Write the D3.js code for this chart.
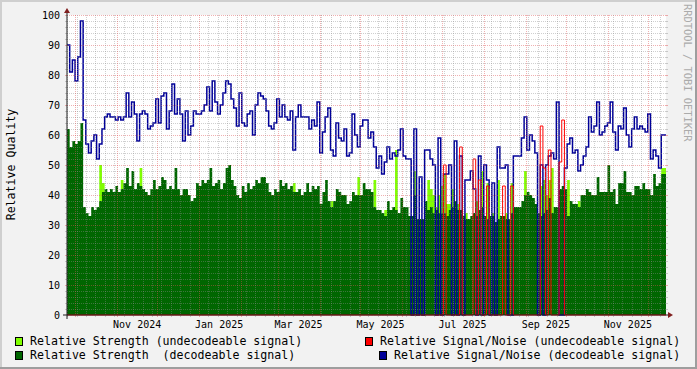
<!DOCTYPE html>
<html>
<head>
<meta charset="utf-8">
<script src="https://cdn.jsdelivr.net/npm/d3@7"></script>
<style>
  html, body { margin: 0; padding: 0; background: #f2f2f2; }
  svg { display: block; font-family: "DejaVu Sans Mono", monospace; }
  text { white-space: pre; }
</style>
</head>
<body>
<svg id="chart" width="697" height="369"></svg>
<script>
// one sample every 2 days, first sample at 2024-09-24 19:30 UTC
const binDays = 2;

// Relative Signal/Noise (decodeable signal)
const snDecoded = [
  90, 81, 85, 78, 86, 98, 65, 57, 54, 58, 60, 52, 57, 62, 66, 67, 66, 66, 65, 66,
  65, 66, 74, 66, 71, 67, 58, 67, 68, 67, 62, 63, 64, 72, 64, 73, 74, 62, 68, 77,
  67, 72, 67, 58, 68, 60, 63, 68, 67, 67, 68, 70, 76, 68, 78, 71, 67, 70, 74, 78,
  77, 72, 69, 63, 74, 64, 63, 67, 68, 60, 70, 74, 73, 72, 68, 63, 62, 64, 72, 66,
  70, 66, 65, 68, 55, 66, 70, 66, 66, 66, 62, 65, 63, 71, 54, 61, 66, 69, 55, 53,
  64, 59, 58, 62, 53, 54, 67, 60, 56, 63, 65, 65, 59, 61, 56, 49, 53, 47, 51, 56,
  52, 54, 53, 55, 62, 53, 52, 52, 0, 62, 0, 46, 0, 55, 55, 52, 50, 0, 59, 0,
  47, 47, 50, 0, 58, 0, 53, 0, 45, 45, 48, 42, 0, 53, 0, 50, 45, 0, 44, 0,
  56, 49, 49, 50, 0, 0, 53, 53, 53, 59, 66, 55, 60, 58, 54, 0, 50, 0, 50, 53,
  54, 52, 71, 0, 0, 49, 57, 59, 54, 55, 48, 50, 53, 56, 66, 61, 63, 71, 60, 61,
  63, 64, 71, 61, 55, 63, 62, 69, 60, 56, 62, 66, 62, 63, 62, 61, 67, 52, 55, 53,
  49, 60
];

// Relative Strength (decodeable signal)
const strengthDecoded = [
  62, 56, 58, 57, 58, 64, 36, 34, 33, 36, 35, 36, 38, 41, 42, 41, 42, 41, 43, 41,
  42, 44, 49, 43, 48, 42, 44, 43, 42, 41, 40, 42, 45, 42, 43, 46, 45, 42, 43, 42,
  49, 42, 40, 42, 42, 40, 38, 39, 44, 43, 45, 44, 45, 49, 43, 44, 45, 42, 44, 49,
  50, 45, 43, 40, 39, 43, 41, 44, 42, 43, 45, 44, 46, 46, 44, 41, 40, 42, 41, 45,
  43, 44, 42, 43, 41, 41, 42, 40, 41, 44, 41, 43, 42, 43, 37, 41, 45, 38, 36, 38,
  42, 41, 40, 40, 37, 38, 41, 40, 40, 40, 44, 42, 42, 41, 36, 35, 35, 34, 33, 38,
  35, 36, 35, 34, 39, 36, 36, 33, 33, 40, 32, 32, 32, 38, 35, 36, 34, 35, 34, 34,
  34, 33, 35, 36, 38, 35, 35, 33, 32, 32, 33, 34, 33, 35, 36, 33, 32, 33, 33, 31,
  32, 33, 33, 32, 32, 34, 36, 36, 36, 38, 40, 41, 40, 39, 37, 34, 33, 34, 35, 39,
  34, 36, 36, 42, 43, 42, 33, 38, 37, 37, 36, 40, 40, 42, 41, 40, 40, 46, 41, 41,
  41, 50, 41, 42, 37, 44, 44, 48, 41, 41, 40, 43, 43, 42, 44, 42, 42, 40, 47, 43,
  44, 47
];

// Relative Strength (undecodeable signal): [sample index, value], only where it shows
const strengthUndecoded = [
  [12, 50], [13, 44], [20, 45], [27, 49], [84, 44], [98, 38], [108, 46], [114, 45],
  [118, 35], [122, 55], [129, 48], [134, 45], [135, 42], [136, 40], [137, 36], [138, 40],
  [139, 43], [140, 47], [141, 37], [142, 37], [143, 42], [145, 37], [148, 34], [152, 38],
  [154, 48], [156, 44], [158, 34], [160, 45], [163, 34], [165, 44], [170, 48], [176, 43],
  [177, 45], [178, 40], [179, 45], [180, 49], [186, 45], [190, 38], [221, 49]
];

// Relative Signal/Noise (undecodeable signal): [sample index, value], 0 elsewhere
const snUndecoded = [
  [140, 50], [146, 56], [151, 52], [153, 45], [156, 43], [162, 43],
  [165, 43], [176, 63], [177, 49], [179, 55], [183, 51], [184, 65]
];

const yTicks = [0, 10, 20, 30, 40, 50, 60, 70, 80, 90, 100];
const xLabelMonths = ["2024-11", "2025-01", "2025-03", "2025-05", "2025-07", "2025-09", "2025-11"];

const legendLabels = [
  "Relative Strength (undecodeable signal)",
  "Relative Strength  (decodeable signal)",
  "Relative Signal/Noise (undecodeable signal)",
  "Relative Signal/Noise (decodeable signal)"
];

const colors = {
  strengthUndec: "#80ff00",
  strengthDec: "#006600",
  snUndec: "#ff0000",
  snDec: "#000099"
};

const W = 697, H = 369;
const plot = { left: 67, right: 666, top: 15, bottom: 315 };
const DAY = 864e5;
const t0 = Date.UTC(2024, 8, 24, 19, 30);
const t1 = t0 + 445.55 * DAY;

const x = d3.scaleUtc().domain([t0, t1]).range([plot.left, plot.right]);
const y = d3.scaleLinear().domain([0, 100]).range([plot.bottom, plot.top]);

// table for the generators
const su = snDecoded.map(() => 0);
strengthUndecoded.forEach(([i, v]) => { su[i] = v; });
const nu = snDecoded.map(() => 0);
snUndecoded.forEach(([i, v]) => { nu[i] = v; });

const rows = snDecoded.map((v, i) => ({
  t: new Date(t0 + i * binDays * DAY),
  nd: v,
  sd: strengthDecoded[i],
  su: su[i],
  nu: nu[i]
}));
rows.push({ ...rows[rows.length - 1], t: new Date(t1) });

const svg = d3.select("#chart");

// background + bevel
svg.append("rect").attr("width", W).attr("height", H).attr("fill", "#f2f2f2");
svg.append("path").attr("d", `M0,0H${W}V2H2V${H}H0Z`).attr("fill", "#cfcfcf");
svg.append("path").attr("d", `M${W},${H}H0V${H - 2}H${W - 2}V0H${W}Z`).attr("fill", "#9e9e9e");

// canvas
svg.append("rect")
  .attr("x", plot.left).attr("y", plot.top)
  .attr("width", plot.right - plot.left).attr("height", plot.bottom - plot.top)
  .attr("fill", "#fff");

const area = key => d3.area()
  .x(d => x(d.t))
  .y0(y(0))
  .y1(d => y(d[key]))
  .curve(d3.curveStepAfter);

const line = key => d3.line()
  .x(d => x(d.t))
  .y(d => y(d[key]))
  .curve(d3.curveStepAfter);

svg.append("path").datum(rows).attr("d", area("su")).attr("fill", colors.strengthUndec);
svg.append("path").datum(rows).attr("d", area("sd")).attr("fill", colors.strengthDec);
svg.append("path").datum(rows).attr("d", line("nd"))
  .attr("fill", "none").attr("stroke", colors.snDec).attr("stroke-width", 1.5);
svg.append("path").datum(rows).attr("d", line("nu"))
  .attr("fill", "none").attr("stroke", colors.snUndec).attr("stroke-width", 1);

// grid on top, like rrdtool
const minorCol = "rgba(140,140,140,0.42)";
const majorCol = "rgba(222,79,79,0.45)";
const grid = svg.append("g").attr("shape-rendering", "crispEdges");

function hLine(v, col) {
  const yy = Math.round(y(v)) + 0.5;
  grid.append("line").attr("x1", plot.left).attr("x2", plot.right)
    .attr("y1", yy).attr("y2", yy)
    .attr("stroke", col).attr("stroke-dasharray", "1,1");
  grid.append("line").attr("x1", plot.left - 2).attr("x2", plot.left)
    .attr("y1", yy).attr("y2", yy).attr("stroke", col);
  grid.append("line").attr("x1", plot.right).attr("x2", plot.right + 2)
    .attr("y1", yy).attr("y2", yy).attr("stroke", col);
}
function vLine(t, col) {
  const xx = Math.round(x(t)) + 0.5;
  grid.append("line").attr("x1", xx).attr("x2", xx)
    .attr("y1", plot.top).attr("y2", plot.bottom)
    .attr("stroke", col).attr("stroke-dasharray", "1,1");
  grid.append("line").attr("x1", xx).attr("x2", xx)
    .attr("y1", plot.bottom).attr("y2", plot.bottom + 2).attr("stroke", col);
}

for (let v = 2; v < 100; v += 2) if (v % 10 !== 0) hLine(v, minorCol);
yTicks.filter(v => v > 0).forEach(v => hLine(v, majorCol));

const months = d3.utcMonth.range(t0, t1);
const monthSet = new Set(months.map(d => +d));
d3.utcWednesday.range(t0, t1)
  .filter(d => !monthSet.has(+d))
  .forEach(d => vLine(d, minorCol));
months.forEach(d => vLine(d, majorCol));

// axes
const axisCol = "#1f1f1f";
svg.append("line").attr("x1", plot.left - 4).attr("x2", plot.right + 4)
  .attr("y1", plot.bottom).attr("y2", plot.bottom).attr("stroke", axisCol);
svg.append("line").attr("x1", plot.left).attr("x2", plot.left)
  .attr("y1", plot.bottom + 4).attr("y2", plot.top - 4).attr("stroke", axisCol);
svg.append("path")
  .attr("d", `M${plot.right + 2},${plot.bottom - 3}L${plot.right + 2},${plot.bottom + 3}L${plot.right + 7},${plot.bottom}Z`)
  .attr("fill", "#801f1f");
svg.append("path")
  .attr("d", `M${plot.left - 3},${plot.top - 2}L${plot.left + 3},${plot.top - 2}L${plot.left},${plot.top - 7}Z`)
  .attr("fill", "#801f1f");

// tick labels
svg.append("g").selectAll("text").data(yTicks).join("text")
  .attr("x", 60).attr("y", d => y(d) + 3.7)
  .attr("text-anchor", "end").attr("font-size", 10).attr("fill", "#000")
  .text(d => d);

const fmt = d3.utcFormat("%b %Y");
svg.append("g").selectAll("text").data(xLabelMonths).join("text")
  .attr("x", d => x(new Date(Date.parse(d + "-01T00:00:00Z") + 15 * DAY)))
  .attr("y", 328)
  .attr("text-anchor", "middle").attr("font-size", 10).attr("fill", "#000")
  .text(d => fmt(new Date(d + "-01T00:00:00Z")));

// axis title
svg.append("text")
  .attr("transform", "translate(15,164.5) rotate(-90)")
  .attr("text-anchor", "middle").attr("font-size", 11.6).attr("fill", "#000")
  .text("Relative Quality");

// watermark
svg.append("text")
  .attr("transform", "translate(684,4) rotate(90)")
  .attr("font-size", 10.4).attr("fill", "#ababab")
  .text("RRDTOOL / TOBI OETIKER");

// legend
const legendPos = [
  { bx: 15, tx: 30, y: 345 },
  { bx: 15, tx: 30, y: 359 },
  { bx: 365, tx: 380, y: 345 },
  { bx: 379, tx: 394, y: 359 }
];
const legendColors = [colors.strengthUndec, colors.strengthDec, colors.snUndec, colors.snDec];
const lg = svg.append("g");
legendLabels.forEach((label, i) => {
  const p = legendPos[i];
  lg.append("rect").attr("x", p.bx + 0.5).attr("y", p.y - 7.5).attr("width", 7).attr("height", 8)
    .attr("fill", legendColors[i]).attr("stroke", "#000").attr("shape-rendering", "crispEdges");
  lg.append("text").attr("x", p.tx).attr("y", p.y)
    .attr("font-size", 11.6).attr("fill", "#000").text(label);
});
</script>
</body>
</html>
